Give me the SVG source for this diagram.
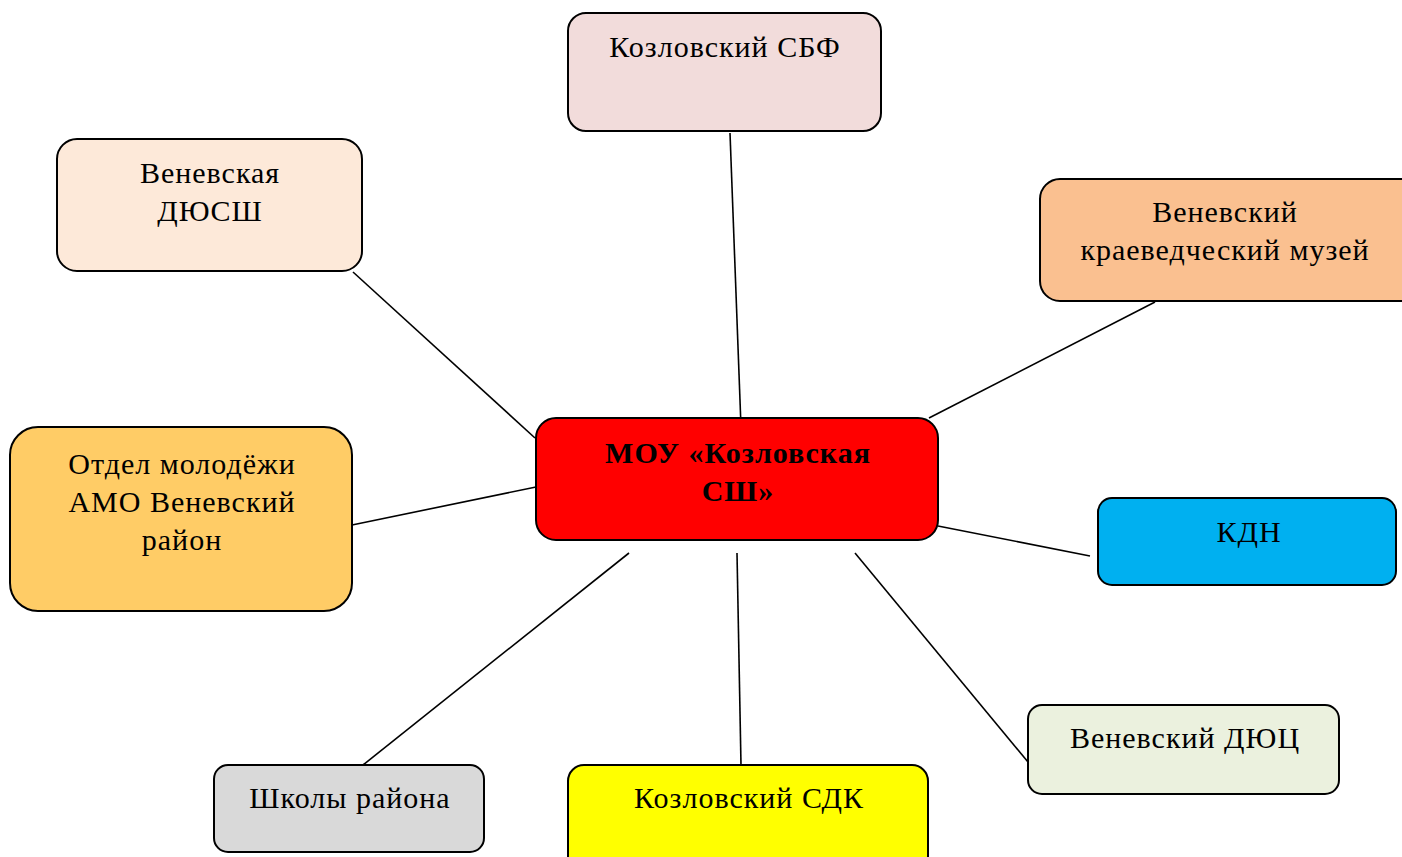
<svg xmlns="http://www.w3.org/2000/svg" width="1402" height="857" viewBox="0 0 1402 857">
<style>
.box{stroke:#000;stroke-width:2}
.t{font-family:"Liberation Serif","Times New Roman",serif;font-size:30px;letter-spacing:1px;fill:#000;text-anchor:middle}
.b{font-weight:bold}
.c{stroke:#000;stroke-width:1.6;fill:none}
</style>
<rect width="1402" height="857" fill="#fff"/>
<g id="connectors">
<line class="c" x1="730" y1="133" x2="741" y2="427"/>
<line class="c" x1="353" y1="272" x2="535" y2="438"/>
<line class="c" x1="1155" y1="302" x2="929" y2="418"/>
<line class="c" x1="352" y1="525" x2="536" y2="487"/>
<line class="c" x1="938" y1="526" x2="1090" y2="556"/>
<line class="c" x1="629" y1="553" x2="363" y2="765"/>
<line class="c" x1="737" y1="553" x2="741" y2="765"/>
<line class="c" x1="855" y1="553" x2="1028" y2="762"/>
</g>
<g id="sbf">
<rect class="box" x="568" y="13" width="313" height="118" rx="18" fill="#f2dcdb"/>
<text class="t" x="725" y="57">Козловский СБФ</text>
</g>
<g id="dyussh">
<rect class="box" x="57" y="139" width="305" height="132" rx="20" fill="#fde9d9"/>
<text class="t" x="210" y="183">Веневская</text>
<text class="t" x="210" y="221">ДЮСШ</text>
</g>
<g id="museum">
<rect class="box" x="1040" y="179" width="380" height="122" rx="20" fill="#fac090"/>
<text class="t" x="1225" y="222">Веневский</text>
<text class="t" x="1225" y="260">краеведческий музей</text>
</g>
<g id="center">
<rect class="box" x="536" y="418" width="402" height="122" rx="20" fill="#ff0000"/>
<text class="t b" x="738" y="463">МОУ «Козловская</text>
<text class="t b" x="738" y="501">СШ»</text>
</g>
<g id="otdel">
<rect class="box" x="10" y="427" width="342" height="184" rx="28" fill="#ffcc66"/>
<text class="t" x="182" y="474">Отдел молодёжи</text>
<text class="t" x="182" y="512">АМО Веневский</text>
<text class="t" x="182" y="550">район</text>
</g>
<g id="kdn">
<rect class="box" x="1098" y="498" width="298" height="87" rx="14" fill="#00b0f0"/>
<text class="t" x="1249" y="542">КДН</text>
</g>
<g id="shkoly">
<rect class="box" x="214" y="765" width="270" height="87" rx="14" fill="#d9d9d9"/>
<text class="t" x="350" y="808">Школы района</text>
</g>
<g id="sdk">
<rect class="box" x="568" y="765" width="360" height="110" rx="16" fill="#ffff00"/>
<text class="t" x="749" y="808">Козловский СДК</text>
</g>
<g id="dyuts">
<rect class="box" x="1028" y="705" width="311" height="89" rx="14" fill="#ebf1de"/>
<text class="t" x="1185" y="748">Веневский ДЮЦ</text>
</g>
</svg>
